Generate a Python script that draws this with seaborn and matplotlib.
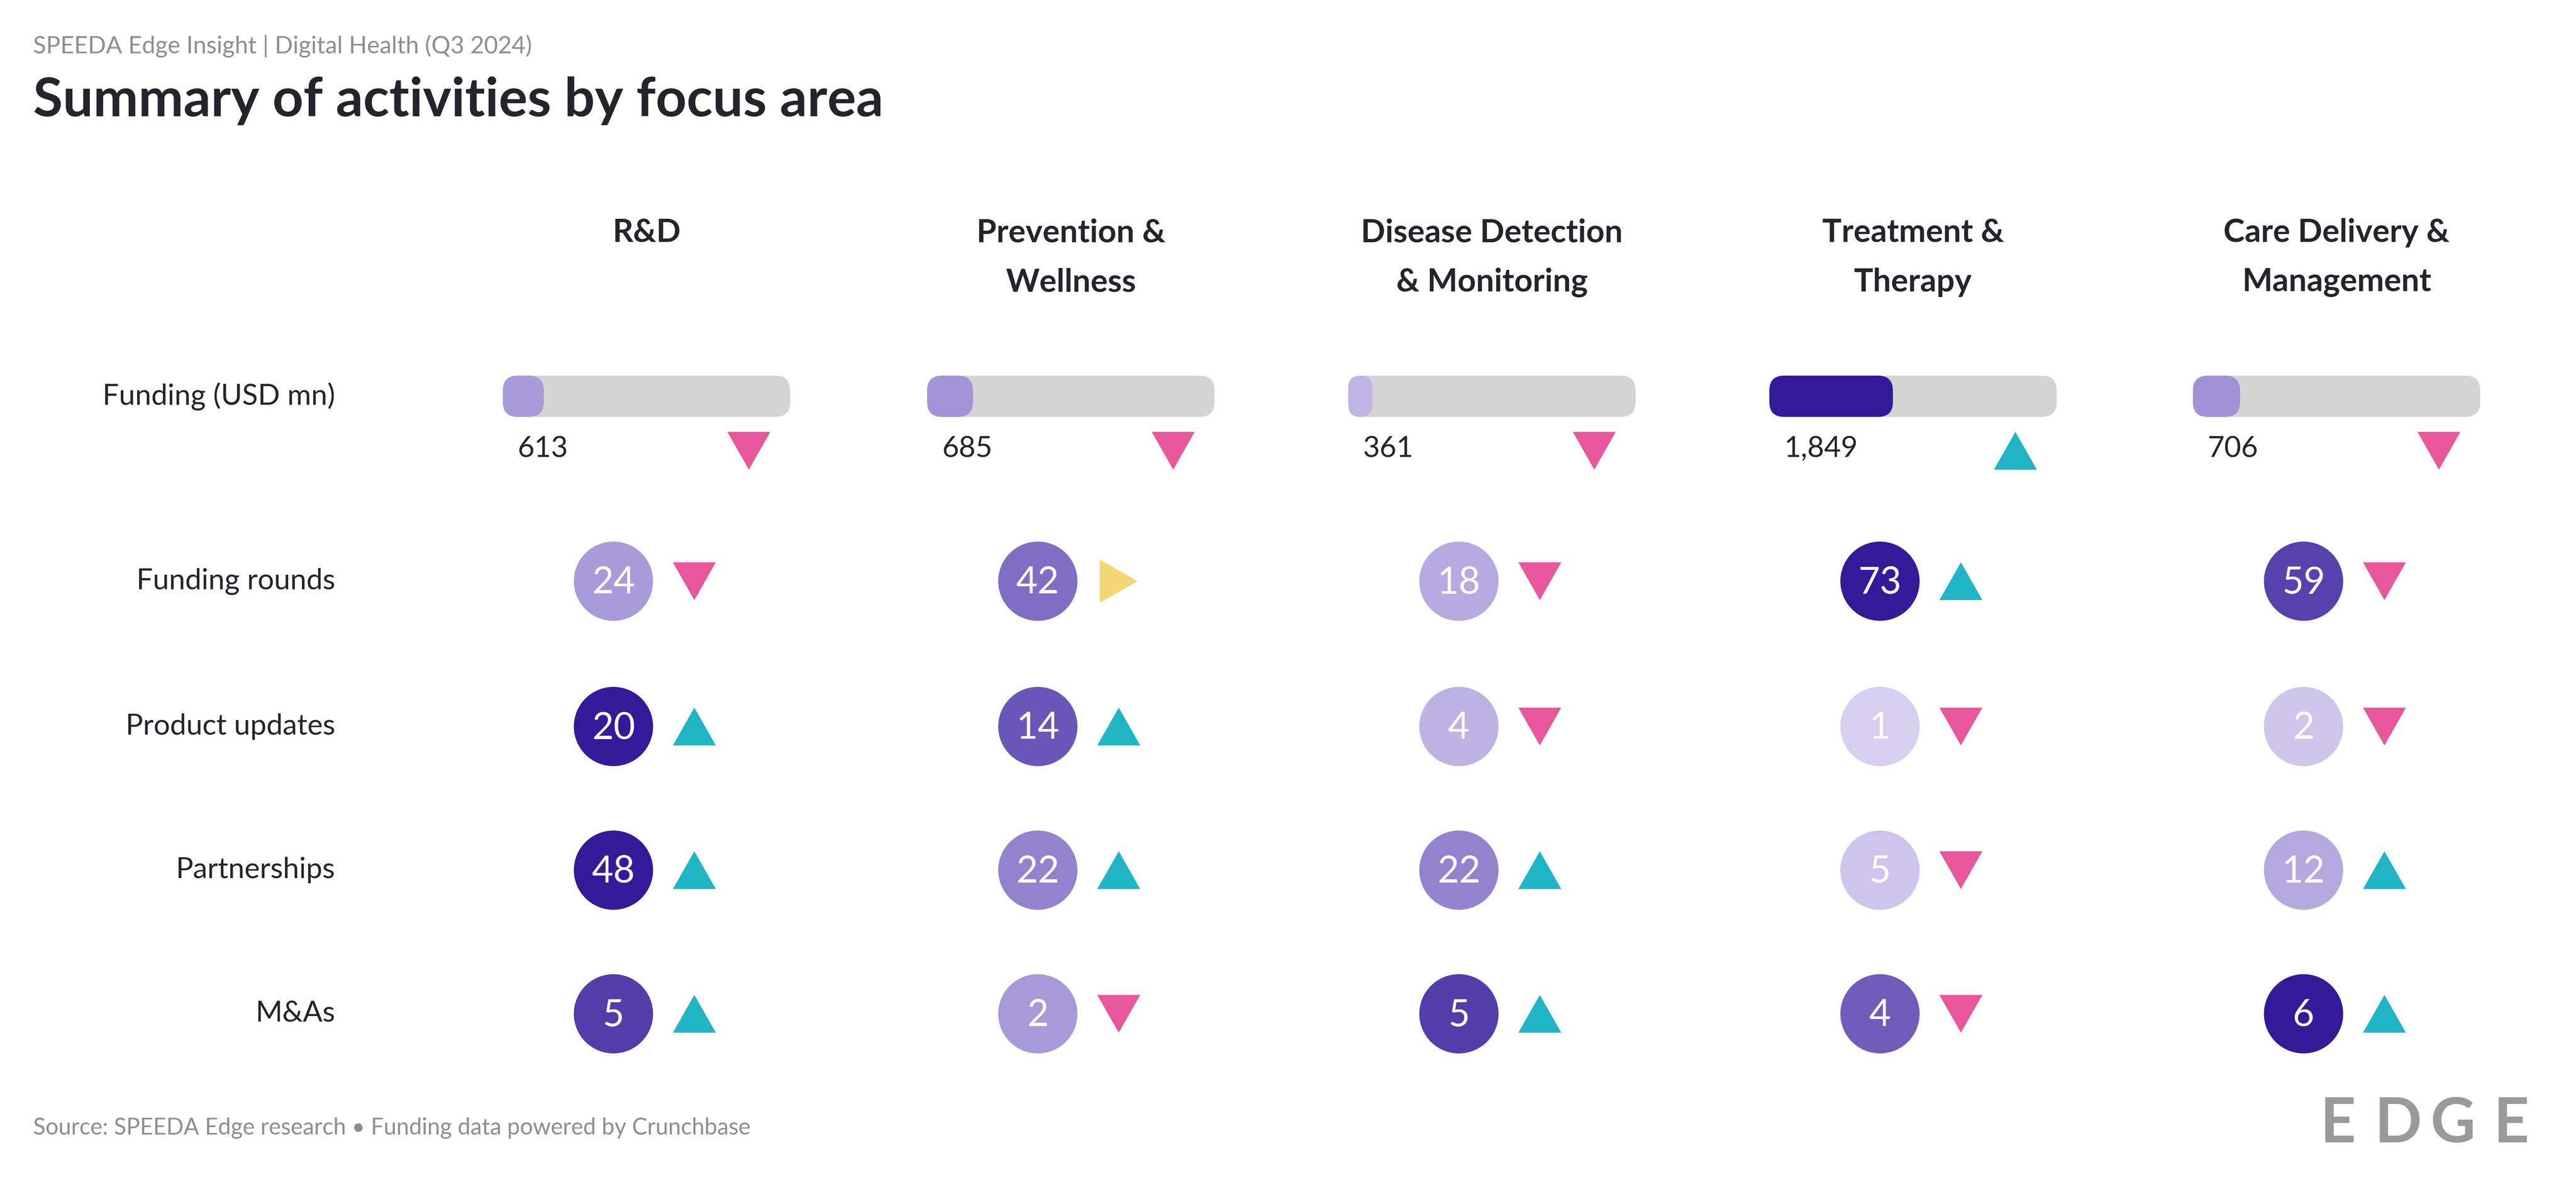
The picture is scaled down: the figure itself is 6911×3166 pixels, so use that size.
import numpy as np
import pandas as pd
import seaborn as sns
import matplotlib.pyplot as plt
from matplotlib.patches import FancyBboxPatch
from matplotlib.colors import LinearSegmentedColormap

# Data
areas = ["R&D", "Prevention &\nWellness", "Disease Detection\n& Monitoring",
         "Treatment &\nTherapy", "Care Delivery &\nManagement"]
funding = [613, 685, 361, 1849, 706]
funding_trend = ["down", "down", "down", "up", "down"]

metrics = ["Funding rounds", "Product updates", "Partnerships", "M&As"]
rounds = [24, 42, 18, 73, 59]
rounds_trend = ["down", "flat", "down", "up", "down"]
products = [20, 14, 4, 1, 2]
products_trend = ["up", "up", "down", "down", "down"]
partnerships = [48, 22, 22, 5, 12]
partnerships_trend = ["up", "up", "up", "down", "up"]
mna = [5, 2, 5, 4, 6]
mna_trend = ["up", "down", "up", "down", "up"]

funding_scale = 4300  # full length of the funding bar

# layout (canvas units, 1560 wide)
W = 1560
H = W * 3166 / 6911
col_x = [391.5, 648.5, 903.5, 1158.5, 1415]
metric_y = [352, 440, 527, 614]
funding_y = 240
bar_w, bar_h = 174, 25
pt = 72 / 400 * 6911 / W  # points per canvas unit

dark = "#25242C"
grey_txt = "#8E8E8E"
shade = LinearSegmentedColormap.from_list(
    "edge", [(0, "#DED8F3"), (0.33, "#A89BD9"), (0.58, "#7F6CC4"),
             (0.82, "#5540AC"), (1, "#341A99")])
trend_colors = {"up": "#20B5C4", "down": "#E8579C", "flat": "#F4D675"}
trend_markers = {"up": [(0, 0.88), (-1, -0.88), (1, -0.88)],
                 "down": [(0, -0.88), (-1, 0.88), (1, 0.88)],
                 "flat": [(0.88, 0), (-0.88, 1), (-0.88, -1)]}

sns.set_theme(style="white")
plt.rcParams["font.family"] = ["Lato", "DejaVu Sans"]

fig = plt.figure(figsize=(6911 / 400, 3166 / 400), dpi=400)
ax = fig.add_axes([0, 0, 1, 1])

# circles for the count metrics
values = [rounds, products, partnerships, mna]
trends = [rounds_trend, products_trend, partnerships_trend, mna_trend]
circ = []
tri = []
for m, y, vals, trs in zip(metrics, metric_y, values, trends):
    top = max(vals)
    for cx, v, t in zip(col_x, vals, trs):
        circ.append({"x": cx - 20, "y": y, "label": str(v), "level": v / top})
        tri.append({"x": cx + 29, "y": y, "trend": t})
for cx, t in zip(col_x, funding_trend):
    tri.append({"x": cx + 62, "y": 273, "trend": t})
circ = pd.DataFrame(circ)
tri = pd.DataFrame(tri)

sns.scatterplot(data=circ, x="x", y="y", hue="level", palette=shade, hue_norm=(0, 1),
                s=(48 * pt) ** 2, linewidth=0, legend=False, ax=ax, zorder=3)
sns.scatterplot(data=tri, x="x", y="y", hue="trend", palette=trend_colors,
                style="trend", markers=trend_markers, s=(26 * pt) ** 2,
                linewidth=0, legend=False, ax=ax, zorder=3)

for x, y, lab in zip(circ["x"], circ["y"], circ["label"]):
    ax.text(x, y + 1, lab, ha="center", va="center",
            color="white", fontsize=18, zorder=4)

# funding bars
fmax = max(funding)
for cx, v in zip(col_x, funding):
    left = cx - bar_w / 2
    ax.add_patch(FancyBboxPatch((left, funding_y - bar_h / 2), bar_w, bar_h,
                                boxstyle="round,pad=0,rounding_size=9",
                                fc="#D4D4D4", ec="none", zorder=2))
    w = v / funding_scale * bar_w
    ax.add_patch(FancyBboxPatch((left, funding_y - bar_h / 2), w, bar_h,
                                boxstyle=f"round,pad=0,rounding_size={min(9, w / 2)}",
                                fc=shade(v / fmax), ec="none", zorder=3))
    ax.text(left + 9, 272, f"{v:,}", ha="left", va="center", color=dark, fontsize=14)

# column headers
for cx, a in zip(col_x, areas):
    for i, line in enumerate(a.split("\n")):
        ax.text(cx, 141 + 30 * i, line, ha="center", va="center", color=dark,
                fontsize=15.5, fontweight="bold")

# row labels
ax.text(203, funding_y, "Funding (USD mn)", ha="right", va="center", color=dark, fontsize=14)
for m, y in zip(metrics, metric_y):
    ax.text(203, y, m, ha="right", va="center", color=dark, fontsize=14)

# titles and footer
ax.text(20, 28, "SPEEDA Edge Insight | Digital Health (Q3 2024)", ha="left", va="center",
        color=grey_txt, fontsize=11.5)
ax.text(20, 61, "Summary of activities by focus area", ha="left", va="center",
        color=dark, fontsize=26, fontweight="bold")
ax.text(20, 683, "Source: SPEEDA Edge research \u2022 Funding data powered by Crunchbase",
        ha="left", va="center", color=grey_txt, fontsize=11)
for x, ch in zip([1405, 1438, 1472, 1510], "EDGE"):
    ax.text(x, 681, ch, ha="left", va="center", color="#9A9A9A", fontsize=30,
            fontweight="bold")

ax.set_xlim(0, W)
ax.set_ylim(H, 0)
ax.axis("off")
fig.savefig("out.png", dpi=400, facecolor="white")
